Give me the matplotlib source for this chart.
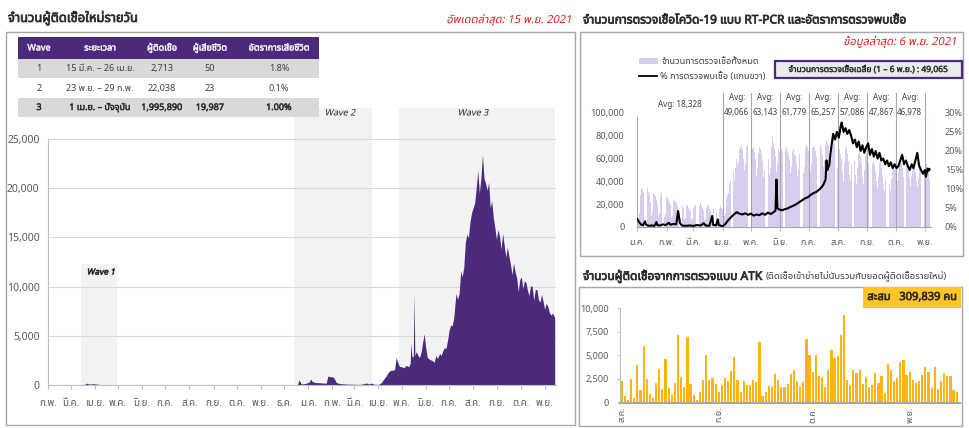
import numpy as np
import pandas as pd
import matplotlib
matplotlib.use("Agg")
import matplotlib.pyplot as plt
from matplotlib import font_manager
from matplotlib.ft2font import FT2Font
from matplotlib.patches import Rectangle
from matplotlib.patheffects import AbstractPathEffect
from matplotlib.transforms import Affine2D

W, H = 969, 428

# ---------------- data ----------------
TH_MONTHS = ['ม.ค.', 'ก.พ.', 'มี.ค.', 'เม.ย.', 'พ.ค.', 'มิ.ย.',
             'ก.ค.', 'ส.ค.', 'ก.ย.', 'ต.ค.', 'พ.ย.', 'ธ.ค.']

# daily new cases (values read at key dates)
case_dates = [
    '2020-02-01', '2020-03-05', '2020-03-14', '2020-03-17', '2020-03-20', '2020-03-22',
    '2020-03-24', '2020-03-27', '2020-03-31', '2020-04-03', '2020-04-07', '2020-04-12',
    '2020-04-18', '2020-04-24', '2020-04-30', '2020-05-15', '2020-07-01', '2020-10-01',
    '2020-12-15', '2020-12-18', '2020-12-20', '2020-12-21', '2020-12-23', '2020-12-28',
    '2021-01-02', '2021-01-04', '2021-01-06', '2021-01-10', '2021-01-15', '2021-01-20',
    '2021-01-24', '2021-01-26', '2021-01-29', '2021-02-01', '2021-02-03', '2021-02-06',
    '2021-02-10', '2021-02-15', '2021-02-20', '2021-02-28', '2021-03-05', '2021-03-10',
    '2021-03-14', '2021-03-17', '2021-03-20', '2021-03-23', '2021-03-26', '2021-04-01',
    '2021-04-05', '2021-04-08', '2021-04-11', '2021-04-14', '2021-04-17', '2021-04-20',
    '2021-04-22', '2021-04-24', '2021-04-26', '2021-04-28', '2021-05-01', '2021-05-04',
    '2021-05-07', '2021-05-10', '2021-05-12', '2021-05-13', '2021-05-14', '2021-05-16',
    '2021-05-17', '2021-05-18', '2021-05-20', '2021-05-22', '2021-05-24', '2021-05-26',
    '2021-05-28', '2021-05-30', '2021-06-01', '2021-06-03', '2021-06-06', '2021-06-09',
    '2021-06-12', '2021-06-14', '2021-06-16', '2021-06-19', '2021-06-21', '2021-06-23',
    '2021-06-25', '2021-06-27', '2021-06-29', '2021-07-01', '2021-07-03', '2021-07-05',
    '2021-07-07', '2021-07-09', '2021-07-10', '2021-07-12', '2021-07-14', '2021-07-16',
    '2021-07-18', '2021-07-20', '2021-07-22', '2021-07-24', '2021-07-26', '2021-07-28',
    '2021-07-30', '2021-08-01', '2021-08-03', '2021-08-05', '2021-08-07', '2021-08-09',
    '2021-08-11', '2021-08-13', '2021-08-15', '2021-08-17', '2021-08-19', '2021-08-21',
    '2021-08-23', '2021-08-25', '2021-08-27', '2021-08-29', '2021-08-31', '2021-09-02',
    '2021-09-04', '2021-09-06', '2021-09-08', '2021-09-10', '2021-09-12', '2021-09-14',
    '2021-09-16', '2021-09-18', '2021-09-20', '2021-09-22', '2021-09-24', '2021-09-26',
    '2021-09-28', '2021-09-30', '2021-10-02', '2021-10-04', '2021-10-06', '2021-10-08',
    '2021-10-10', '2021-10-12', '2021-10-14', '2021-10-16', '2021-10-18', '2021-10-20',
    '2021-10-22', '2021-10-24', '2021-10-26', '2021-10-28', '2021-10-30', '2021-11-01',
    '2021-11-03', '2021-11-05', '2021-11-07', '2021-11-09', '2021-11-11', '2021-11-13',
    '2021-11-14',
]
case_values = [
    0, 5, 20, 40, 90, 188,
    110, 100, 130, 100, 50, 35,
    30, 15, 5, 5, 5, 5,
    5, 20, 550, 380, 100, 150,
    280, 620, 350, 250, 230, 200,
    180, 900, 850, 830, 700, 250,
    150, 120, 90, 80, 60, 70,
    150, 200, 100, 200, 90, 50,
    250, 600, 900, 1300, 1500, 1500,
    1600, 2800, 2300, 1900, 1850, 1750,
    2000, 1850, 2200, 4300, 3000, 2800,
    9300, 3000, 3400, 3000, 2800, 3300,
    4300, 5200, 3800, 2800, 2600, 2500,
    2300, 3000, 2700, 3200, 3000, 3500,
    3800, 3700, 4500, 5500, 6100, 6000,
    6800, 8500, 9300, 8700, 9300, 11600,
    11000, 12000, 14500, 15300, 15000, 16600,
    17500, 18000, 18500, 20000, 21800, 19500,
    21000, 23400, 21000, 20500, 19800, 20600,
    18000, 18700, 17000, 16000, 14800, 15800,
    15100, 13800, 15400, 14200, 13000, 14000,
    13100, 12300, 11200, 12400, 11500, 10900,
    9500, 10700, 11000, 9800, 10600, 10400,
    9600, 9100, 10100, 10000, 8600, 9700,
    9700, 8700, 8400, 9200, 8500, 7700,
    8300, 8000, 7400, 7100, 7300, 7000,
    6800,
]

wave_headers = ['Wave', 'ระยะเวลา', 'ผู้ติดเชื้อ', 'ผู้เสียชีวิต', 'อัตราการเสียชีวิต']
wave_rows = [
    ['1', '15 มี.ค. – 26 เม.ย.', '2,713', '50', '1.8%'],
    ['2', '23 พ.ย. – 29 ก.พ.', '22,038', '23', '0.1%'],
    ['3', '1 เม.ย. – ปัจจุบัน', '1,995,890', '19,987', '1.00%'],
]

# RT-PCR tests per day (thousands), 1 Jan - 6 Nov 2021
tests_jan = [14, 8, 12, 28, 33, 34, 30, 25, 12, 15, 33, 35, 31, 28, 22, 10, 13, 30, 29, 27,
             24, 20, 9, 12, 27, 30, 26, 25, 21, 9, 11]
tests_feb = [26, 25, 24, 22, 19, 8, 10, 23, 24, 22, 21, 18, 7, 9, 20, 22, 21, 19, 17, 7,
             8, 18, 19, 17, 16, 14, 6, 8]
tests_mar = [17, 19, 18, 16, 14, 6, 8, 18, 21, 19, 17, 15, 6, 8, 17, 19, 18, 16, 14, 6,
             7, 16, 18, 17, 15, 13, 5, 7, 16, 18, 17]
tests_apr = [16, 14, 10, 12, 25, 28, 30, 38, 40, 30, 32, 45, 48, 40, 52, 60, 55, 58, 68, 70,
             72, 68, 60, 50, 55, 70, 72, 71, 68, 60]
tests_may = [55, 62, 68, 70, 66, 60, 45, 52, 65, 70, 68, 64, 58, 44, 50, 66, 72, 70, 65, 60,
             46, 52, 70, 80, 74, 68, 62, 48, 55, 68, 66]
tests_jun = [66, 69, 67, 62, 50, 56, 68, 70, 66, 64, 60, 47, 53, 66, 68, 64, 62, 55, 45, 51,
             64, 67, 66, 62, 57, 47, 53, 69, 72, 70]
tests_jul = [67, 63, 49, 55, 69, 71, 69, 67, 61, 52, 57, 71, 73, 72, 69, 63, 53, 59, 72, 75,
             73, 71, 65, 55, 59, 75, 77, 74, 72, 67, 57]
tests_aug = [52, 66, 68, 64, 60, 48, 40, 56, 68, 70, 64, 58, 46, 40, 54, 66, 68, 62, 58, 46,
             38, 52, 64, 66, 62, 56, 44, 38, 50, 62, 64]
tests_sep = [60, 56, 50, 42, 36, 46, 56, 58, 54, 48, 40, 34, 44, 56, 58, 52, 46, 38, 32, 42,
             54, 56, 50, 46, 38, 32, 42, 54, 56, 50]
tests_oct = [55, 48, 40, 48, 58, 60, 56, 52, 44, 38, 46, 56, 58, 54, 50, 42, 36, 44, 54, 56,
             52, 48, 40, 35, 42, 52, 54, 50, 46, 38, 34]
tests_nov = [46, 52, 55, 52, 48, 41]

# % positive (right axis)
pct_dates = [
    '2021-01-01', '2021-01-03', '2021-01-05', '2021-01-07', '2021-01-09', '2021-01-10',
    '2021-01-13', '2021-01-16', '2021-01-19', '2021-01-21', '2021-01-22', '2021-01-25',
    '2021-01-28', '2021-01-31', '2021-02-03', '2021-02-05', '2021-02-08', '2021-02-11',
    '2021-02-13', '2021-02-15', '2021-02-17', '2021-02-21', '2021-02-25', '2021-03-01',
    '2021-03-05', '2021-03-09', '2021-03-12', '2021-03-14', '2021-03-18', '2021-03-21',
    '2021-03-22', '2021-03-25', '2021-03-27', '2021-03-28', '2021-04-01', '2021-04-04',
    '2021-04-07', '2021-04-10', '2021-04-13', '2021-04-16', '2021-04-19', '2021-04-22',
    '2021-04-25', '2021-04-28', '2021-05-01', '2021-05-04', '2021-05-07', '2021-05-10',
    '2021-05-13', '2021-05-16', '2021-05-19', '2021-05-22', '2021-05-25', '2021-05-27',
    '2021-05-28', '2021-05-29', '2021-05-31', '2021-06-03', '2021-06-06', '2021-06-09',
    '2021-06-12', '2021-06-15', '2021-06-18', '2021-06-21', '2021-06-24', '2021-06-27',
    '2021-06-30', '2021-07-03', '2021-07-06', '2021-07-09', '2021-07-12', '2021-07-15',
    '2021-07-17', '2021-07-19', '2021-07-20', '2021-07-21', '2021-07-23', '2021-07-25',
    '2021-07-27', '2021-07-29', '2021-07-31', '2021-08-02', '2021-08-04', '2021-08-05',
    '2021-08-07', '2021-08-09', '2021-08-11', '2021-08-13', '2021-08-15', '2021-08-17',
    '2021-08-19', '2021-08-21', '2021-08-23', '2021-08-25', '2021-08-27', '2021-08-29',
    '2021-08-31', '2021-09-02', '2021-09-04', '2021-09-06', '2021-09-08', '2021-09-10',
    '2021-09-12', '2021-09-14', '2021-09-16', '2021-09-18', '2021-09-20', '2021-09-22',
    '2021-09-24', '2021-09-26', '2021-09-28', '2021-09-30', '2021-10-02', '2021-10-04',
    '2021-10-06', '2021-10-08', '2021-10-10', '2021-10-12', '2021-10-14', '2021-10-16',
    '2021-10-18', '2021-10-20', '2021-10-22', '2021-10-24', '2021-10-26', '2021-10-28',
    '2021-10-30', '2021-11-01', '2021-11-02', '2021-11-04', '2021-11-05', '2021-11-06',
]
pct_values = [
    2.0, 1.2, 0.6, 0.5, 1.5, 0.6,
    0.3, 0.4, 0.3, 1.3, 0.5, 0.4,
    0.7, 0.5, 1.1, 0.6, 0.8, 0.7,
    4.2, 1.0, 0.4, 0.3, 0.4, 0.3,
    0.5, 0.4, 1.0, 0.4, 0.3, 2.9,
    0.6, 0.4, 2.0, 0.5, 0.2, 0.8,
    1.8, 2.6, 3.3, 3.9, 3.5, 3.3,
    3.6, 3.2, 3.5, 3.0, 3.3, 3.1,
    3.6, 3.2, 3.8, 3.4, 3.9, 4.3,
    12.5, 5.0, 4.6, 4.4, 4.7, 4.9,
    5.3, 5.6, 6.0, 6.5, 7.0, 7.5,
    7.8, 8.4, 8.9, 9.2, 9.8, 10.5,
    11.3, 12.5, 17.5, 15.0, 16.5, 21.0,
    24.5, 23.0, 25.0, 23.5, 26.5, 27.5,
    25.0, 26.0, 24.5, 25.5, 24.0, 22.0,
    23.0, 21.0, 22.5, 20.0, 21.5, 19.5,
    21.0, 22.0, 19.0, 20.5, 18.5, 20.0,
    18.0, 19.5, 17.5, 18.0, 16.5, 17.5,
    16.0, 17.0, 15.5, 16.5, 15.5, 16.0,
    17.5, 19.0, 16.5, 17.5, 16.0, 15.0,
    16.5, 15.5, 17.5, 19.5, 16.0, 15.0,
    14.0, 15.0, 13.2, 15.4, 14.8, 15.2,
]

avg_labels = ['49,066', '63,143', '61,779', '65,257', '57,086', '47,867', '46,978']
avg_months = ['2021-04', '2021-05', '2021-06', '2021-07', '2021-08', '2021-09', '2021-10']

# ATK positives per day from 1 Aug 2021
atk_values = [
    2230, 700, 300, 2470, 450, 4000, 1350, 5950, 2500, 900,
    450, 2100, 3570, 1450, 4620, 1500, 800, 2080, 7180, 2730,
    1650, 7000, 1980, 800, 230, 1150, 2420, 5050, 2420, 2580,
    1980, 1070, 1820, 2650, 2300, 3360, 4850, 2380, 1100, 2300,
    1870, 1900, 2440, 2190, 6400, 700, 1160, 1700, 1630, 3040,
    2400, 1630, 1660, 1980, 3040, 3430, 2330, 1660, 2190, 6750,
    5050, 3290, 5090, 2830, 2720, 1660, 3430, 5580, 4730, 4980,
    7140, 9290, 2440, 1870, 3500, 3140, 3460, 2010, 2720, 1630,
    1870, 3110, 2120, 2830, 1020, 4100, 3430, 2230, 2580, 4350,
    4490, 2970, 3220, 2370, 2080, 2300, 2930, 3780, 3250, 1550,
    3750, 1450, 2300, 3140, 2790, 2830, 1340, 1100,
]

# ---------------- fonts ----------------
def find_thai_font():
    found = []
    for f in font_manager.fontManager.ttflist:
        try:
            cmap = FT2Font(f.fname).get_charmap()
        except Exception:
            continue
        if 0x0E01 in cmap and 0x0E40 in cmap:
            found.append(f.name)
    for pref in ['Noto Sans Thai', 'Noto Sans Thai UI', 'Tahoma', 'Loma', 'Garuda', 'Sarabun']:
        if pref in found:
            return pref
    return found[0] if found else None

thai = find_thai_font()
plt.rcParams['font.family'] = [thai, 'DejaVu Sans'] if thai else ['DejaVu Sans']


class FakeStyle(AbstractPathEffect):
    """slant and/or thicken glyphs (the Thai font has no bold/italic faces)"""

    def __init__(self, slant=0.0, lw=0.0):
        super().__init__()
        self.slant = slant
        self.lw = lw

    def draw_path(self, renderer, gc, tpath, affine, rgbFace=None):
        if self.slant:
            m = affine.get_matrix()
            tx, ty = m[0, 2], m[1, 2]
            affine = affine + Affine2D().translate(-tx, -ty).skew(np.arctan(self.slant), 0).translate(tx, ty)
        gc0 = renderer.new_gc()
        gc0.copy_properties(gc)
        if self.lw and rgbFace is not None:
            gc0.set_linewidth(self.lw)
            gc0.set_foreground(rgbFace)
        else:
            gc0.set_linewidth(0)
        renderer.draw_path(gc0, tpath, affine, rgbFace)
        gc0.restore()


BOLD = [FakeStyle(lw=0.55)]
ITALIC = [FakeStyle(slant=0.2)]
BOLD_ITALIC = [FakeStyle(slant=0.2, lw=0.45)]

GRAY_TXT = '#595959'
PURPLE = '#4b2a7c'
LINE_GRAY = '#bfbfbf'

fig = plt.figure(figsize=(W / 100, H / 100), dpi=100)


def rect(x0, y0, x1, y1):
    return [x0 / W, 1 - y1 / H, (x1 - x0) / W, (y1 - y0) / H]


def month_ticks(ax, start, end, size):
    ticks = pd.date_range(start, end, freq='MS')
    ax.set_xticks(ticks)
    ax.set_xticklabels([TH_MONTHS[t.month - 1] for t in ticks])
    ax.tick_params(axis='x', length=3, color=LINE_GRAY, labelsize=size, labelcolor=GRAY_TXT)
    return ticks


# ---------------- daily new cases ----------------
ax = fig.add_axes(rect(48, 108, 555.5, 385))
top = 25000 * (385 - 108) / (385 - 139)
ax.set_xlim(pd.Timestamp('2020-02-01'), pd.Timestamp('2021-11-15'))
ax.set_ylim(0, top)
ax.axvspan(pd.Timestamp('2020-03-15'), pd.Timestamp('2020-04-30'), ymax=12300 / top,
           color='#f2f2f2', lw=0, zorder=0)
ax.axvspan(pd.Timestamp('2020-12-13'), pd.Timestamp('2021-03-24'), color='#f2f2f2', lw=0, zorder=0)
ax.axvspan(pd.Timestamp('2021-04-28'), pd.Timestamp('2021-11-15'), color='#f2f2f2', lw=0, zorder=0)
ax.fill_between(pd.to_datetime(case_dates), case_values, color=PURPLE, lw=0, zorder=2)
yt = list(range(0, 25001, 5000))
ax.set_yticks(yt)
ax.set_yticklabels([f'{v:,}' for v in yt])
ax.yaxis.grid(True, color='#d9d9d9', lw=0.8)
ax.set_axisbelow(True)
ax.tick_params(axis='y', length=0, pad=6, labelsize=7.5, labelcolor=GRAY_TXT)
month_ticks(ax, '2020-02-01', '2021-11-01', 7)
ax.tick_params(axis='x', pad=7)
for s in ['top', 'right']:
    ax.spines[s].set_visible(False)
ax.spines['left'].set_bounds(0, 25000)
ax.spines['left'].set_color(LINE_GRAY)
ax.spines['bottom'].set_color(LINE_GRAY)
ax.patch.set_alpha(0)

# ---------------- RT-PCR tests ----------------
tests = np.array(tests_jan + tests_feb + tests_mar + tests_apr + tests_may + tests_jun +
                 tests_jul + tests_aug + tests_sep + tests_oct + tests_nov) * 1000
test_dates = pd.date_range('2021-01-01', periods=len(tests), freq='D')
ax2 = fig.add_axes(rect(637, 93, 931, 227))
x0 = pd.Timestamp('2021-01-01') - pd.Timedelta(hours=12)
x1 = x0 + pd.Timedelta(days=311)
ax2.set_xlim(x0, x1)
ax2.set_ylim(0, 117500)
ax2.bar(test_dates, tests, width=0.85, color='#d9cdee', lw=0, zorder=1)
for m in pd.date_range('2021-04-01', '2021-11-01', freq='MS'):
    ax2.axvline(m, color='#a6a6a6', lw=0.8, zorder=2)
ax2.axvline(x0, ymax=0.82, color='#a6a6a6', lw=0.8)
ax2.axvline(x1, ymax=0.84, color='#a6a6a6', lw=0.8)
ax2.set_yticks(range(0, 100001, 20000))
ax2.set_yticklabels([f'{v:,}' for v in range(0, 100001, 20000)])
ax2.tick_params(axis='y', length=0, pad=9, labelsize=6.5, labelcolor=GRAY_TXT)
month_ticks(ax2, '2021-01-01', '2021-11-01', 6.5)
ax2.tick_params(axis='x', pad=5)
for s in ['top', 'right', 'left']:
    ax2.spines[s].set_visible(False)
ax2.spines['bottom'].set_color('#a6a6a6')

ax2r = ax2.twinx()
ax2r.plot(pd.to_datetime(pct_dates), pct_values, color='black', lw=1.5, zorder=3)
ax2r.set_ylim(0, 117500 * 30 / 100000)
ax2r.set_yticks(range(0, 31, 5))
ax2r.set_yticklabels([f'{v}%' for v in range(0, 31, 5)])
ax2r.tick_params(axis='y', length=0, pad=10, labelsize=6.5, labelcolor=GRAY_TXT)
for s in ax2r.spines.values():
    s.set_visible(False)

xt = ax2.get_xaxis_transform()
ax2.text(pd.Timestamp('2021-02-15'), 0.915, 'Avg: 18,328', transform=xt, ha='center',
         va='center', fontsize=5.8, color='#404040')
for mon, lab in zip(avg_months, avg_labels):
    mid = pd.Timestamp(mon + '-01') + pd.Timedelta(days=15)
    ax2.text(mid, 0.965, 'Avg:', transform=xt, ha='center', va='center', fontsize=5.8, color='#404040')
    ax2.text(mid, 0.858, lab, transform=xt, ha='center', va='center', fontsize=5.8, color='#404040')

# ---------------- ATK ----------------
atk_dates = pd.date_range('2021-08-01', periods=len(atk_values), freq='D')
ax3 = fig.add_axes(rect(620, 300, 960, 402.5))
a0 = pd.Timestamp('2021-08-01') - pd.Timedelta(hours=13)
ax3.set_xlim(a0, a0 + pd.Timedelta(days=108.6))
ax3.set_ylim(0, 10000 * 102.5 / 94.2)
ax3.bar(atk_dates, atk_values, width=0.7, color='#ffb414', lw=0)
ax3.set_yticks(range(0, 10001, 2500))
ax3.set_yticklabels([f'{v:,}' for v in range(0, 10001, 2500)])
ax3.tick_params(axis='y', length=2, color=LINE_GRAY, pad=6, labelsize=6.5, labelcolor=GRAY_TXT)
atk_ticks = pd.date_range('2021-08-01', '2021-11-01', freq='MS')
ax3.set_xticks(atk_ticks)
ax3.set_xticklabels([TH_MONTHS[t.month - 1] for t in atk_ticks], rotation=90)
ax3.tick_params(axis='x', length=0, pad=3, labelsize=6.5, labelcolor=GRAY_TXT)
for s in ['top', 'right']:
    ax3.spines[s].set_visible(False)
ax3.spines['left'].set_bounds(0, 10000)
ax3.spines['left'].set_color(LINE_GRAY)
ax3.spines['bottom'].set_color('#a6a6a6')
ax3.spines['bottom'].set_linewidth(1.5)
ax3.patch.set_alpha(0)

# ---------------- overlay: frames, titles, table ----------------
ov = fig.add_axes([0, 0, 1, 1], zorder=10)
ov.set_xlim(0, W)
ov.set_ylim(H, 0)
ov.axis('off')

for (fx0, fy0, fx1, fy1) in [(6, 32, 575, 425), (580, 32, 963, 256), (579, 287, 962, 426)]:
    ov.add_patch(Rectangle((fx0, fy0), fx1 - fx0, fy1 - fy0, fill=False, ec='#a6a6a6', lw=1))

ov.text(8, 18, 'จำนวนผู้ติดเชื้อใหม่รายวัน', fontsize=9.3, color='#262626',
        va='center', ha='left', path_effects=BOLD)
ov.text(571, 20, 'อัพเดตล่าสุด: 15 พ.ย. 2021', fontsize=8, color='#e02020',
        va='center', ha='right', path_effects=ITALIC)
ov.text(583, 20, 'จำนวนการตรวจเชื้อโควิด-19 แบบ RT-PCR และอัตราการตรวจพบเชื้อ', fontsize=8.6,
        color='#262626', va='center', ha='left', path_effects=BOLD)
ov.text(956, 42, 'ข้อมูลล่าสุด: 6 พ.ย. 2021', fontsize=8, color='#e02020',
        va='center', ha='right', path_effects=ITALIC)

# table
col_x = [39, 100, 162, 210, 279]
row_y = [(37, 59), (59, 78), (78, 98), (98, 117)]
row_fill = [PURPLE, '#d9d9d9', 'white', '#d9d9d9']
for (ry0, ry1), fc in zip(row_y, row_fill):
    ov.add_patch(Rectangle((18, ry0), 301, ry1 - ry0, color=fc, lw=0))
for cx, hd in zip(col_x, wave_headers):
    ov.text(cx, 48, hd, fontsize=6.5, color='white', ha='center', va='center',
            path_effects=[FakeStyle(lw=0.35)])
for i, row in enumerate(wave_rows):
    ry0, ry1 = row_y[i + 1]
    for cx, val in zip(col_x, row):
        ov.text(cx, (ry0 + ry1) / 2, val, fontsize=6.5, color='#404040' if i < 2 else '#262626',
                ha='center', va='center', path_effects=[FakeStyle(lw=0.4)] if i == 2 else None)

# wave labels
ov.text(101, 272, 'Wave 1', fontsize=6, color='#262626', ha='center', va='center',
        path_effects=BOLD_ITALIC)
ov.text(340, 113, 'Wave 2', fontsize=6.5, color='#262626', ha='center', va='center',
        path_effects=ITALIC)
ov.text(473, 113, 'Wave 3', fontsize=6.5, color='#262626', ha='center', va='center',
        path_effects=ITALIC)

# PCR legend and average box
ov.add_patch(Rectangle((639, 58), 19, 6, color='#d9cdee', lw=0))
ov.text(662, 61, 'จำนวนการตรวจเชื้อทั้งหมด', fontsize=6.6, color='#404040', va='center', ha='left')
ov.plot([639, 657], [76, 76], color='black', lw=1.3)
ov.text(660, 76, '% การตรวจพบเชื้อ (แกนขวา)', fontsize=6.6, color='#404040', va='center', ha='left')
ov.add_patch(Rectangle((775, 61), 187, 17, fc='#ebebeb', ec='#4b2a7c', lw=1.6))
ov.text(868, 69.5, 'จำนวนการตรวจเชื้อเฉลี่ย (1 – 6 พ.ย.) : 49,065', fontsize=6.1,
        color='#262626', ha='center', va='center', path_effects=[FakeStyle(lw=0.35)])

# ATK title and total box
t1 = ov.text(583, 276, 'จำนวนผู้ติดเชื้อจากการตรวจแบบ ATK', fontsize=8.6, color='#262626',
             va='center', ha='left', path_effects=BOLD)
fig.canvas.draw()
bb = t1.get_window_extent().transformed(ov.transData.inverted())
ov.text(bb.x1 + 3, 277, '(ติดเชื้อเข้าข่ายไม่นับรวมกับยอดผู้ติดเชื้อรายใหม่)', fontsize=6.8,
        color='#404040', va='center', ha='left')
ov.add_patch(Rectangle((863, 287), 98, 21, color='#ffc526', lw=0))
ov.text(912, 297.5, 'สะสม   309,839 คน', fontsize=8, color='#262626',
        ha='center', va='center', path_effects=[FakeStyle(lw=0.5)])

fig.savefig('out.png', dpi=100)
